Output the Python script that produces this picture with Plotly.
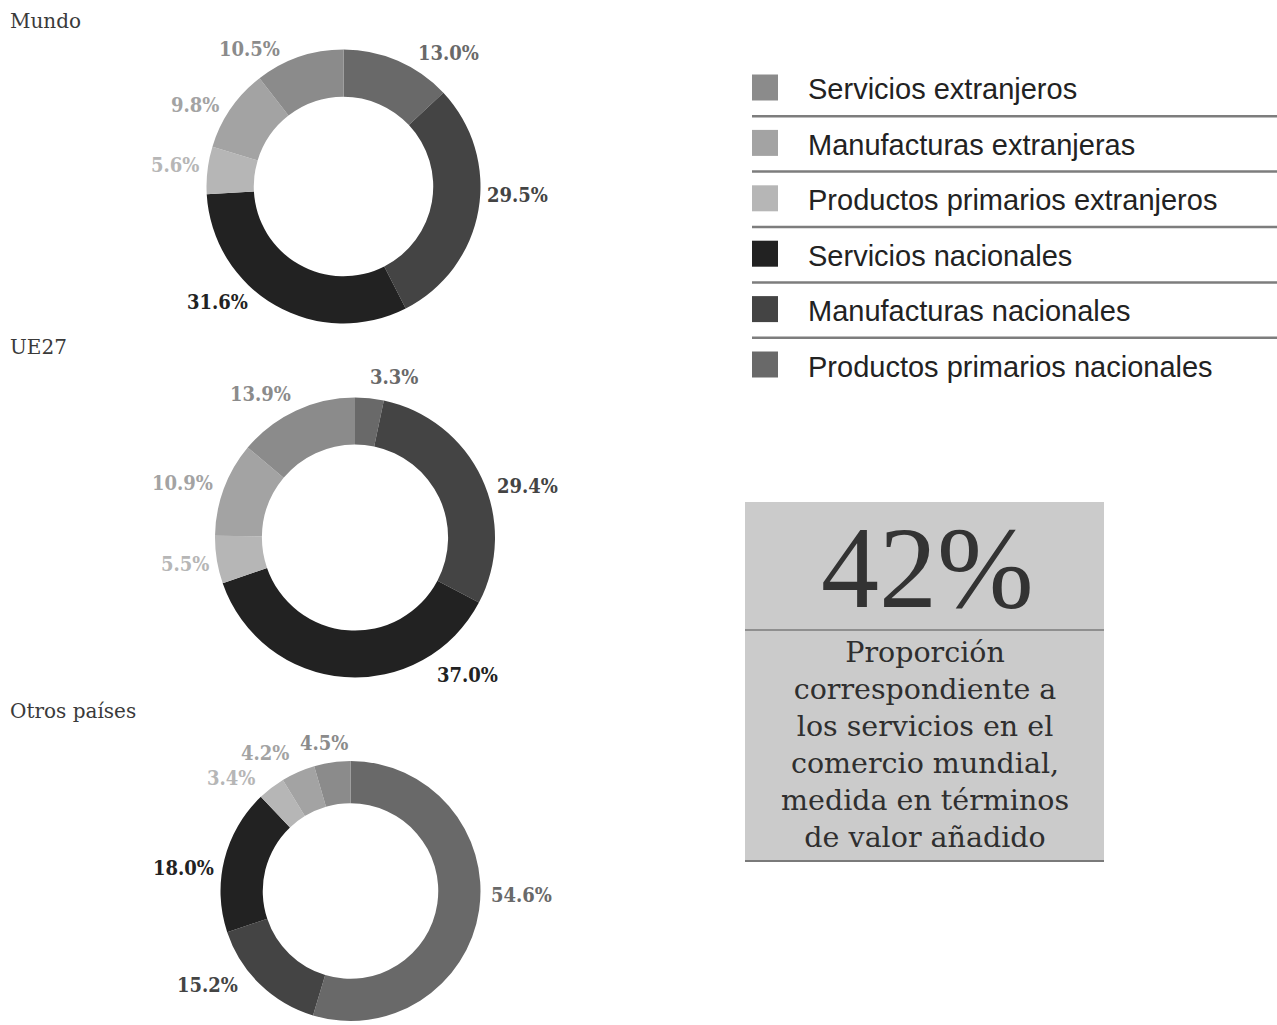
import plotly.graph_objects as go

# ---- data ---------------------------------------------------------------
categories = [
    "Productos primarios nacionales",
    "Manufacturas nacionales",
    "Servicios nacionales",
    "Productos primarios extranjeros",
    "Manufacturas extranjeras",
    "Servicios extranjeros",
]
mundo = [13.0, 29.5, 31.6, 5.6, 9.8, 10.5]
ue27 = [3.3, 29.4, 37.0, 5.5, 10.9, 13.9]
otros = [54.6, 15.2, 18.0, 3.4, 4.2, 4.5]

legend_order = [
    "Servicios extranjeros",
    "Manufacturas extranjeras",
    "Productos primarios extranjeros",
    "Servicios nacionales",
    "Manufacturas nacionales",
    "Productos primarios nacionales",
]

headline_value = "42%"
headline_text = ["Proporción", "correspondiente a", "los servicios en el",
                 "comercio mundial,", "medida en términos", "de valor añadido"]

# ---- styling ------------------------------------------------------------
W, H = 1277, 1025
colors = {
    "Productos primarios nacionales": "#696969",
    "Manufacturas nacionales": "#444444",
    "Servicios nacionales": "#222222",
    "Productos primarios extranjeros": "#b6b6b6",
    "Manufacturas extranjeras": "#a3a3a3",
    "Servicios extranjeros": "#8b8b8b",
}
SERIF = "DejaVu Serif"
LABEL_FONT = "DejaVu Serif Condensed, DejaVu Serif"
SANS = "Liberation Sans, Arial, sans-serif"


def px(x):
    return x / W


def py(y):
    return 1 - y / H


# donut layout: title, values, centre (px), radius (px), hole, label positions (px)
donuts = [
    dict(title="Mundo", title_y=21, values=mundo, cx=343.5, cy=186.5, r=137, hole=0.655,
         label_pos=[(448, 53), (517, 195), (217, 302), (175, 165), (195, 105), (249, 49)]),
    dict(title="UE27", title_y=347, values=ue27, cx=355, cy=537.5, r=140, hole=0.665,
         label_pos=[(394, 377), (527, 486), (468, 675), (185, 564), (182, 483), (260, 394)]),
    dict(title="Otros países", title_y=711, values=otros, cx=350.5, cy=891, r=130, hole=0.675,
         label_pos=[(521, 895), (207, 985), (183, 868), (231, 778), (265, 753), (324, 743)]),
]

fig = go.Figure()
annotations = []
shapes = []

for d in donuts:
    fig.add_trace(go.Pie(
        labels=categories,
        values=d["values"],
        hole=d["hole"],
        sort=False,
        direction="clockwise",
        rotation=0,
        marker=dict(colors=[colors[c] for c in categories], line=dict(width=0)),
        textinfo="none",
        hoverinfo="label+percent",
        showlegend=False,
        domain=dict(x=[px(d["cx"] - d["r"]), px(d["cx"] + d["r"])],
                    y=[py(d["cy"] + d["r"]), py(d["cy"] - d["r"])]),
    ))
    annotations.append(dict(
        x=px(8), y=py(d["title_y"]), xref="paper", yref="paper",
        text=d["title"], showarrow=False, xanchor="left", yanchor="middle",
        font=dict(family=SERIF, size=20, color="#3a3a3a"),
    ))
    for cat, val, (lx, ly) in zip(categories, d["values"], d["label_pos"]):
        annotations.append(dict(
            x=px(lx), y=py(ly), xref="paper", yref="paper",
            text=f"<b>{val:.1f}%</b>", showarrow=False,
            xanchor="center", yanchor="middle",
            font=dict(family=LABEL_FONT, size=20, color=colors[cat]),
        ))

# ---- legend block -------------------------------------------------------
row_y0, row_step = 87.5, 55.4
for i, cat in enumerate(legend_order):
    yc = row_y0 + i * row_step
    shapes.append(dict(
        type="rect", xref="paper", yref="paper",
        x0=px(752), x1=px(778), y0=py(yc + 13), y1=py(yc - 13),
        fillcolor=colors[cat], line=dict(width=0),
    ))
    annotations.append(dict(
        x=px(806), y=py(yc + 2), xref="paper", yref="paper",
        text=cat, showarrow=False, xanchor="left", yanchor="middle",
        font=dict(family=SANS, size=29, color="#222222"),
    ))
    if i < len(legend_order) - 1:
        ys = yc + row_step / 2 + 1
        shapes.append(dict(
            type="line", xref="paper", yref="paper",
            x0=px(752), x1=1, y0=py(ys), y1=py(ys),
            line=dict(color="#7d7d7d", width=2.5),
        ))

# ---- headline box -------------------------------------------------------
box_l, box_r, box_t, box_b = 745, 1104, 502, 861
shapes.append(dict(
    type="rect", xref="paper", yref="paper",
    x0=px(box_l), x1=px(box_r), y0=py(box_b), y1=py(box_t),
    fillcolor="#cbcbcb", line=dict(width=0), layer="below",
))
shapes.append(dict(
    type="line", xref="paper", yref="paper",
    x0=px(box_l), x1=px(box_r), y0=py(630), y1=py(630),
    line=dict(color="#8f8f8f", width=2),
))
shapes.append(dict(
    type="line", xref="paper", yref="paper",
    x0=px(box_l), x1=px(box_r), y0=py(box_b), y1=py(box_b),
    line=dict(color="#7a7a7a", width=2),
))
box_cx = (box_l + box_r) / 2
annotations.append(dict(
    x=px(box_cx + 3), y=py(568), xref="paper", yref="paper",
    text=headline_value, showarrow=False, xanchor="center", yanchor="middle",
    font=dict(family="Liberation Serif, serif", size=116, color="#333333"),
))
annotations.append(dict(
    x=px(box_cx), y=py(745), xref="paper", yref="paper",
    text="<br>".join(headline_text), showarrow=False,
    xanchor="center", yanchor="middle", align="center",
    font=dict(family=SERIF, size=28.5, color="#2f2f2f"),
))

fig.update_layout(
    width=W, height=H,
    margin=dict(l=0, r=0, t=0, b=0),
    paper_bgcolor="white", plot_bgcolor="white",
    annotations=annotations, shapes=shapes,
    showlegend=False,
)

fig.write_html("out.html")
